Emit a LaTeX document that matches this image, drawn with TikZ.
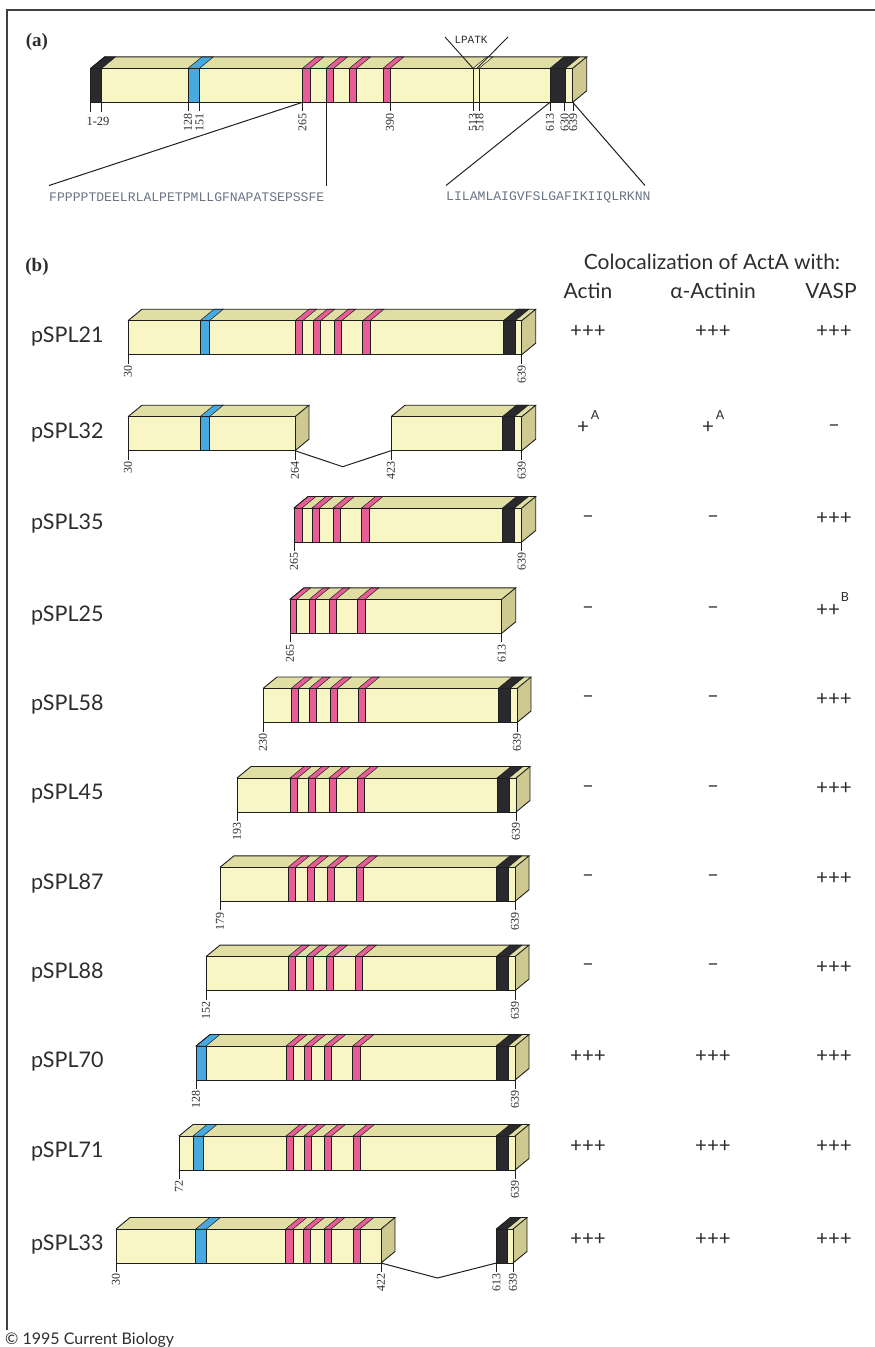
\documentclass[tikz,border=0pt]{standalone}
\usepackage{fontspec}
\setmainfont{Liberation Serif}
\newfontfamily\labf{Lato}
\newfontfamily\seqf{Liberation Mono}
\definecolor{frontc}{RGB}{249,246,198}
\definecolor{topc}{RGB}{224,222,162}
\definecolor{sidec}{RGB}{205,201,145}
\definecolor{bluec}{RGB}{70,170,225}
\definecolor{pinkc}{RGB}{232,92,152}
\definecolor{blackc}{RGB}{42,42,46}
\definecolor{outc}{RGB}{30,30,30}
\definecolor{txtc}{RGB}{45,45,45}
\definecolor{seqc}{RGB}{105,115,130}
\def\BarH{34}
\def\BarDX{14}
\def\BarDY{11.5}
\newcommand\protbar[4]{%
 \pgfmathsetmacro\yT{#1}%
 \pgfmathsetmacro\yB{#1+\BarH}%
 \pgfmathsetmacro\yK{#1-\BarDY}%
 \pgfmathsetmacro\yS{#1+\BarH-\BarDY}%
 \pgfmathsetmacro\xR{#3+\BarDX}%
 \pgfmathsetmacro\xL{#2+\BarDX}%
 \fill[frontc] (#2,\yT) rectangle (#3,\yB);
 \fill[topc] (#2,\yT) -- (#3,\yT) -- (\xR,\yK) -- (\xL,\yK) -- cycle;
 \fill[sidec] (#3,\yT) -- (#3,\yB) -- (\xR,\yS) -- (\xR,\yK) -- cycle;
 \foreach \ba/\bb/\bc in {#4}{%
   \filldraw[fill=\bc, draw=outc, line width=.5pt] (\ba,\yT) rectangle (\bb,\yB);
   \filldraw[fill=\bc, draw=outc, line width=.5pt] (\ba,\yT) -- (\bb,\yT) -- ({\bb+\BarDX},\yK) -- ({\ba+\BarDX},\yK) -- cycle;
 }
 \draw[outl] (#2,\yT) rectangle (#3,\yB);
 \draw[outl] (#2,\yT) -- (\xL,\yK) -- (\xR,\yK) -- (#3,\yT);
 \draw[outl] (\xR,\yK) -- (\xR,\yS) -- (#3,\yB);
}
% tick: x, y(bar bottom), label
\newcommand\tk[3]{\draw[outl] (#1,#2) -- ({#1},{#2+9}) node[tlab]{#3};}
% row label and values: ytop, name, v1, v2, v3
\newcommand\rowtxt[6]{%
 \node[rlab] (#2) at (31,{#1+16}) {#3};
 \node[val] (#2a) at (588,{#1+11}) {#4};
 \node[val] (#2b) at (713,{#1+11}) {#5};
 \node[val] (#2c) at (834,{#1+11}) {#6};
}
\begin{document}
\begin{tikzpicture}[x=1pt,y=-1pt,
  outl/.style={draw=outc, line width=0.9pt},
  tlab/.style={anchor=east, rotate=90, inner sep=1.5pt, font=\fontsize{12}{13}\selectfont, text=txtc},
  rlab/.style={anchor=west, inner sep=0pt, font=\labf\fontsize{21.5}{23}\selectfont, text=txtc},
  val/.style={inner sep=0pt, font=\labf\fontsize{20.5}{22}\selectfont, text=txtc},
  hdr/.style={inner sep=0pt, font=\labf\fontsize{21}{23}\selectfont, text=txtc},
  seq/.style={anchor=west, inner sep=0pt, font=\seqf\fontsize{13.1}{14}\selectfont, text=seqc},
  sup/.style={inner sep=0pt, font=\labf\fontsize{12.5}{13}\selectfont, text=txtc},
  pl/.style={inner sep=0pt, font=\bfseries\fontsize{19}{20}\selectfont, text=txtc},
  conn/.style={draw=outc, line width=1pt}]
\useasboundingbox (0,0) rectangle (875,1347);
% frame
\draw[line width=1.6pt, draw=black!75] (7,1330) -- (7,10) -- (875,10);

% ---------------- (a)
\node[pl] (pa) at (37,42) {(a)};
\protbar{68.3}{90.7}{572.7}{90.7/101.7/blackc, 188/199.5/bluec, 302.5/310/pinkc, 326/333.7/pinkc, 349.4/356.7/pinkc, 383/390/pinkc, 473/479/frontc, 550/565.6/blackc}
\draw[outl] (90.7,102.3) -- (90.7,112);
\draw[outl] (101.7,102.3) -- (101.7,112);
\node[inner sep=0pt, font=\fontsize{12.5}{13}\selectfont, text=txtc] (l129) at (98,121) {1-29};
\tk{188}{102.3}{128}
\tk{199.5}{102.3}{151}
\tk{302.5}{102.3}{265}
\tk{390}{102.3}{390}
\tk{473}{102.3}{513}
\tk{479.5}{102.3}{518}
\tk{550}{102.3}{613}
\tk{564.6}{102.3}{630}
\tk{573.2}{102.3}{639}
\node[inner sep=0pt, font=\seqf\fontsize{11}{12}\selectfont, text=txtc] (lpatk) at (471,40) {LPATK};
\coordinate (v1a) at (445,37); \coordinate (v1b) at (473,68.3);
\coordinate (v2a) at (508,37); \coordinate (v2b) at (477,68.3);
\draw[outl] (v1a) -- (v1b);
\draw[outl] (v2a) -- (v2b);
\node[seq] (seq1) at (49,197) {FPPPPTDEELRLALPETPMLLGFNAPATSEPSSFE};
\node[seq] (seq2) at (446,197) {LILAMLAIGVFSLGAFIKIIQLRKNN};
\coordinate (s1a) at (302.5,102.3); \coordinate (s1b) at (49,185.5);
\coordinate (s2a) at (326,102.3); \coordinate (s2b) at (326,185.5);
\coordinate (s3a) at (550,102.3); \coordinate (s3b) at (446,185.5);
\coordinate (s4a) at (572.7,102.3); \coordinate (s4b) at (645,185.5);
\draw[conn] (s1a) -- (s1b);
\draw[conn] (s2a) -- (s2b);
\draw[conn] (s3a) -- (s3b);
\draw[conn] (s4a) -- (s4b);

% ---------------- (b)
\node[pl] (pb) at (37,267) {(b)};
\node[hdr] (hcol) at (712,262) {Colocalization of ActA with:};
\node[hdr] (hact) at (588,291) {Actin};
\node[hdr] (halp) at (713,291) {α-Actinin};
\node[hdr] (hvas) at (831,291) {VASP};

% pSPL21
\protbar{320.7}{128}{521.7}{200/209.3/bluec, 295/302.7/pinkc, 313.3/320.7/pinkc, 334.3/341.7/pinkc, 362.7/370/pinkc, 503.3/515/blackc}
\tk{128}{354.7}{30}\tk{521.7}{354.7}{639}
\rowtxt{320.7}{r21}{pSPL21}{+++}{+++}{+++}

% pSPL32
\protbar{416.7}{128}{295}{200/209.3/bluec}
\protbar{416.7}{391}{521.7}{502.3/514.3/blackc}
\tk{128}{450.7}{30}\tk{295}{450.7}{264}\tk{391}{450.7}{423}\tk{521.7}{450.7}{639}
\coordinate (g1a) at (295,450.7); \coordinate (g1m) at (342.7,466.7); \coordinate (g1b) at (391,450.7);
\draw[conn] (g1a) -- (g1m) -- (g1b);
\node[rlab] (r32) at (31,432.7) {pSPL32};
\node[val] (r32a) at (583,428) {+};\node[sup] (r32as) at (595,415) {A};
\node[val] (r32b) at (708,428) {+};\node[sup] (r32bs) at (720,415) {A};
\node[val] (r32c) at (834,428) {\textendash};

% pSPL35
\protbar{508}{294}{521.7}{294/302/pinkc, 312/319.5/pinkc, 333/340.5/pinkc, 361.5/369/pinkc, 502.5/514.5/blackc}
\tk{294}{542}{265}\tk{521.7}{542}{639}
\rowtxt{508}{r35}{pSPL35}{\textendash}{\textendash}{+++}

% pSPL25
\protbar{599.3}{290}{501.7}{290/296.7/pinkc, 309.3/315.5/pinkc, 329.3/336/pinkc, 357.3/365/pinkc}
\tk{290}{633.3}{265}\tk{501.7}{633.3}{613}
\node[rlab] (r25) at (31,615.3) {pSPL25};
\node[val] (r25a) at (588,610.3) {\textendash};
\node[val] (r25b) at (713,610.3) {\textendash};
\node[val] (r25c) at (828,610.3) {++};\node[sup] (r25cs) at (845,597) {B};

% pSPL58
\protbar{688.5}{263}{517}{291/298.5/pinkc, 309/316.5/pinkc, 330/337.5/pinkc, 358/365.5/pinkc, 498/510/blackc}
\tk{263}{722.5}{230}\tk{517}{722.5}{639}
\rowtxt{688.5}{r58}{pSPL58}{\textendash}{\textendash}{+++}

% pSPL45
\protbar{778}{237}{516}{290/297.5/pinkc, 308/315.5/pinkc, 329/336.5/pinkc, 357/364.5/pinkc, 497/509/blackc}
\tk{237}{812}{193}\tk{516}{812}{639}
\rowtxt{778}{r45}{pSPL45}{\textendash}{\textendash}{+++}

% pSPL87
\protbar{867.3}{220}{515}{288/295.5/pinkc, 307/314.5/pinkc, 327/334.5/pinkc, 356/363.5/pinkc, 496/508/blackc}
\tk{220}{901.3}{179}\tk{515}{901.3}{639}
\rowtxt{867.3}{r87}{pSPL87}{\textendash}{\textendash}{+++}

% pSPL88
\protbar{956.6}{206}{515}{288/295.5/pinkc, 306/313.5/pinkc, 326/333.5/pinkc, 355/362.5/pinkc, 496/508/blackc}
\tk{206}{990.6}{152}\tk{515}{990.6}{639}
\rowtxt{956.6}{r88}{pSPL88}{\textendash}{\textendash}{+++}

% pSPL70
\protbar{1046}{196}{515}{196/206/bluec, 286/293.3/pinkc, 304.3/311.7/pinkc, 324.3/331.7/pinkc, 352.7/360/pinkc, 496/508.3/blackc}
\tk{196}{1080}{128}\tk{515}{1080}{639}
\rowtxt{1046}{r70}{pSPL70}{+++}{+++}{+++}

% pSPL71
\protbar{1136}{179}{515}{193/203/bluec, 286/293.3/pinkc, 304/311.4/pinkc, 324/331.4/pinkc, 353/360.4/pinkc, 496/508/blackc}
\tk{179}{1170}{72}\tk{515}{1170}{639}
\rowtxt{1136}{r71}{pSPL71}{+++}{+++}{+++}

% pSPL33
\protbar{1229}{116}{381}{195.7/206.4/bluec, 285.7/292.9/pinkc, 303.6/310.5/pinkc, 324/331/pinkc, 352.9/359.9/pinkc}
\protbar{1229}{496.4}{513}{496.4/507/blackc}
\tk{116}{1263}{30}\tk{381}{1263}{422}\tk{496.4}{1263}{613}\tk{513}{1263}{639}
\coordinate (g2a) at (381,1263); \coordinate (g2m) at (437.5,1278); \coordinate (g2b) at (496.4,1263);
\draw[conn] (g2a) -- (g2m) -- (g2b);
\rowtxt{1229}{r33}{pSPL33}{+++}{+++}{+++}

\node[anchor=west, inner sep=0pt, font=\labf\fontsize{16}{17}\selectfont, text=txtc] (copy) at (5,1340) {\textcopyright\ 1995 Current Biology};
\end{tikzpicture}
\end{document}
